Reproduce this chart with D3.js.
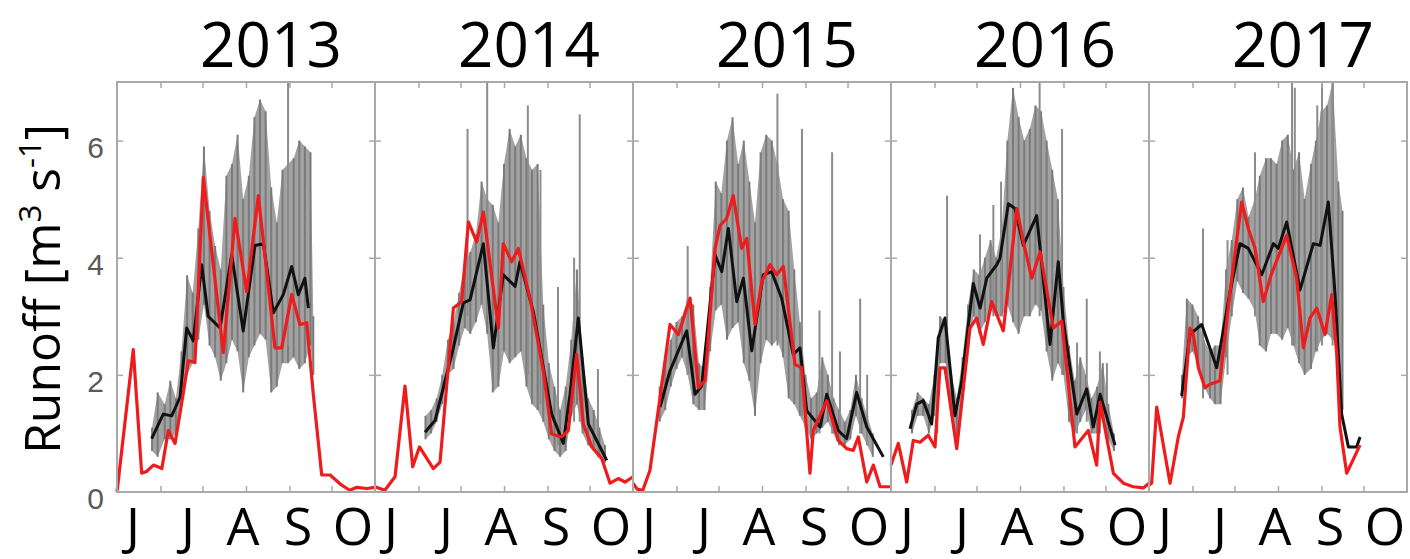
<!DOCTYPE html>
<html>
<head>
<meta charset="utf-8">
<script src="https://cdn.jsdelivr.net/npm/d3@7"></script>
<style>
  body { margin: 0; background: #fff; }
</style>
</head>
<body>
<div id="chart"></div>
<script>
// runoff per melt season, one panel per year. day = days since 1 May
const years = [2013, 2014, 2015, 2016, 2017];
const monthLabels = ["J", "J", "A", "S", "O"];
const yTicks = [0, 2, 4, 6];

// [day, value]
const red2013 = [[0,0],[11.6,2.43],[17.6,0.32],[21,0.35],[26,0.46],[32,0.4],[36.6,1.05],[41.4,0.83],[46,1.5],[50.9,2.24],[55.6,2.21],[61.6,5.37],[75.8,2.38],[84.2,4.67],[92.5,3.42],[100.8,5.06],[112.7,2.46],[117.5,2.46],[124.6,3.37],[130.5,2.86],[135.3,2.89],[140,1.67],[146,0.29],[152,0.29],[160,0.12],[166,0.03],[171,0.08],[178,0.06],[184,0.08]];
const black2013 = [[24.7,0.91],[33,1.33],[39,1.3],[45,1.62],[49.7,2.8],[54.4,2.58],[60.4,3.88],[65,3.0],[73.5,2.8],[81.8,4.05],[90,2.75],[98.4,4.21],[104.4,4.24],[111.5,3.06],[118.6,3.37],[124.6,3.85],[129.3,3.37],[134,3.65],[136.5,3.14]];
// [day, low, high]
const gray2013 = [[25,0.7,1.1],[29,0.6,1.7],[34,0.9,1.5],[38,0.9,1.9],[42,1.0,1.6],[46,1.6,2.4],[50,2.0,3.7],[54,2.2,3.4],[58,2.6,4.5],[62,3.2,5.9],[66,2.5,4.8],[70,2.3,4.2],[74,1.9,3.8],[78,2.2,5.4],[82,2.6,5.6],[86,2.4,6.1],[90,1.7,5.0],[94,2.3,5.4],[98,2.5,6.4],[102,2.7,6.7],[106,2.6,6.5],[110,1.7,5.2],[114,1.8,4.6],[118,2.2,5.5],[122,2.2,5.6],[126,2.3,5.7],[130,2.1,6.0],[134,2.2,5.9],[138,2.5,5.8],[140,2.0,3.0]];
const spikes2013 = [[122,2.5,7.0]];

const red2014 = [[0,0.09],[7,0.03],[14.3,0.26],[21.4,1.81],[26.9,0.43],[31.7,0.77],[41.6,0.4],[46.4,0.51],[55.9,3.14],[61.8,3.25],[66.6,4.61],[72.5,4.27],[77.3,4.78],[88,2.8],[91.5,4.24],[97.5,3.93],[102.2,4.16],[110.5,3.31],[120,2.07],[126,0.99],[133,0.94],[137.9,1.05],[143.8,2.35],[148.6,1.16],[154.6,0.77],[161.7,0.57],[167.6,0.15],[173.5,0.23],[178.3,0.17],[184,0.26]];
const black2014 = [[35.7,1.02],[42.8,1.22],[55.9,2.46],[63,3.23],[67.8,3.28],[77.3,4.24],[84.4,2.46],[91.5,3.71],[99.9,3.51],[103.4,3.93],[112.9,3.08],[126,1.33],[134.3,0.83],[139.1,1.67],[145,2.97],[152.2,1.16],[158.1,0.88],[165.3,0.54]];
const gray2014 = [[36,0.9,1.3],[40,1.0,1.4],[44,1.2,1.6],[48,1.5,2.0],[52,2.0,2.6],[56,2.1,2.9],[60,2.5,3.4],[64,2.8,3.9],[68,2.7,4.1],[72,2.9,4.4],[76,3.2,5.3],[80,2.7,5.0],[84,1.7,4.9],[88,1.8,4.6],[92,2.4,5.6],[96,2.2,6.2],[100,2.3,5.9],[104,2.4,6.1],[108,1.8,5.7],[112,1.5,5.5],[116,1.4,5.6],[120,1.2,3.2],[124,0.9,2.2],[128,0.7,1.8],[132,0.6,1.4],[136,0.7,1.8],[140,1.3,2.6],[144,1.5,3.8],[148,1.0,2.3],[152,0.8,1.6],[156,0.7,1.4],[160,0.6,1.1],[164,0.5,0.8]];
const spikes2014 = [[66,3.0,6.2],[80,3.0,7.0],[109,2.0,6.6],[118,1.5,5.5],[130.5,0.8,3.5],[142,1.2,4.0],[146,1.2,6.45],[159,0.6,2.1]];

const red2015 = [[0,0.15],[3,0.05],[7,0.03],[12.1,0.37],[19.3,1.62],[26.4,2.86],[32.3,2.69],[40.7,3.31],[46.6,1.78],[51.4,1.9],[58.5,4.16],[62.1,4.55],[66.8,4.67],[71.5,5.06],[77.5,4.16],[81.1,4.33],[87,2.86],[91.8,3.59],[97.7,3.88],[102.5,3.71],[107.2,3.85],[115.5,2.18],[120.3,2.12],[126.2,0.32],[128.6,1.05],[138.2,1.56],[146.4,0.88],[152.4,0.74],[157.1,0.71],[160.7,0.94],[166.7,0.17],[171.4,0.46],[176.2,0.09],[184,0.09]];
const black2015 = [[19.3,1.45],[26.4,2.07],[38.3,2.75],[44.2,1.67],[49,1.81],[58.5,4.05],[63.3,3.76],[68,4.5],[74,3.25],[78.7,3.65],[84.7,2.41],[92.9,3.71],[98.9,3.76],[106,3.31],[114.3,2.35],[119.1,2.46],[123.9,1.39],[133.4,1.11],[138.2,1.67],[146.4,1.05],[152.4,0.91],[159.5,1.7],[166.7,1.11],[178.5,0.6]];
const gray2015 = [[19,1.2,1.8],[23,1.4,2.3],[27,1.8,2.6],[31,2.1,2.9],[35,2.3,3.0],[39,2.0,3.3],[43,1.5,3.2],[47,1.4,2.2],[51,1.4,2.1],[55,2.4,3.5],[59,3.1,5.3],[63,3.2,5.1],[67,2.6,6.0],[71,2.8,6.4],[75,2.9,5.6],[79,2.2,6.0],[83,1.9,5.3],[87,1.3,4.6],[91,2.2,5.8],[95,2.6,6.1],[99,2.5,6.0],[103,2.6,5.6],[107,2.3,5.0],[111,1.6,4.8],[115,1.5,3.8],[119,1.3,2.9],[123,1.1,2.0],[127,0.9,1.6],[131,1.0,1.7],[135,1.1,2.3],[139,1.2,2.0],[143,1.0,1.6],[147,0.8,1.4],[151,0.8,1.2],[155,0.9,1.4],[159,1.3,2.0],[163,1.0,1.6],[167,0.8,1.3],[171,0.6,1.0]];
const spikes2015 = [[39,2.0,4.2],[103,2.5,6.8],[120.5,1.3,6.2],[133,1.0,3.1],[142,1.0,5.8],[147.6,0.8,2.4],[162,1.0,3.3],[167,0.8,2.0]];

const red2016 = [[0,0.46],[5.2,0.83],[11.2,0.17],[15.9,0.88],[20.7,0.85],[26.6,0.97],[31.4,0.77],[34.9,2.12],[38.5,2.12],[46.9,0.74],[56.3,2.8],[61.1,2.97],[65.8,2.52],[71.8,3.25],[80.1,2.75],[89.7,4.84],[94.4,4.27],[100.4,3.65],[106.3,4.1],[115.8,2.8],[121.8,2.92],[131.2,0.77],[140.7,1.05],[146.7,0.46],[149.1,1.53],[158.6,0.32],[165.7,0.15],[172.8,0.09],[180,0.07],[184,0.15]];
const black2016 = [[13.6,1.08],[18.3,1.5],[23,1.56],[29,1.16],[33.7,2.63],[38.5,2.97],[45.6,1.3],[50.4,1.9],[58.7,3.56],[63.5,3.14],[68.3,3.65],[75.4,3.88],[77.7,3.99],[83.7,4.92],[88.4,4.84],[94.4,4.21],[103.9,4.72],[113.4,2.52],[119.3,3.93],[122.9,2.92],[132.5,1.33],[139.6,1.76],[144.3,1.11],[149.1,1.67],[159.8,0.8]];
const gray2016 = [[15,1.0,1.4],[19,1.3,1.7],[23,1.3,1.6],[27,1.0,1.5],[31,1.3,2.0],[35,2.2,3.0],[39,2.2,2.9],[43,1.3,2.0],[47,0.9,1.6],[51,1.6,2.3],[55,2.5,3.2],[59,3.0,3.8],[63,2.7,3.7],[67,2.9,4.0],[71,3.1,4.3],[75,3.0,4.0],[79,3.0,4.5],[83,3.2,6.0],[87,2.9,6.9],[91,2.7,6.4],[95,3.0,6.0],[99,3.0,6.2],[103,3.2,6.6],[107,3.1,6.5],[111,2.4,6.0],[115,1.9,5.5],[119,2.2,5.0],[123,2.0,3.5],[127,1.2,2.5],[131,1.0,1.9],[135,1.2,2.3],[139,1.4,2.0],[143,1.0,1.6],[147,1.0,1.8],[151,1.3,2.2],[155,0.9,1.5],[159,0.7,1.0]];
const spikes2016 = [[33,1.0,2.4],[40,2.0,5.06],[63.5,2.8,4.4],[73,3.0,4.9],[78.5,3.0,5.3],[106,3.0,7.0],[122,2.0,6.2],[132.7,1.0,2.55],[139.6,1.2,3.3],[149,1.0,2.4],[154,0.9,2.2]];

const red2017 = [[0,0.12],[1.9,0.15],[5.5,1.45],[15,0.15],[20.9,0.94],[24.5,1.28],[29.2,2.8],[31.6,2.69],[35.2,2.12],[39.9,1.78],[43.5,1.84],[50.6,1.9],[57.8,3.42],[66.1,4.95],[70.8,4.5],[75.6,4.16],[81.5,3.25],[87,3.7],[98.2,4.38],[105.3,3.65],[110.1,2.46],[114.8,2.97],[119.6,3.14],[125.5,2.69],[130.3,3.37],[133.9,2.35],[136.2,1.11],[141,0.32],[150.5,0.8]];
const black2017 = [[23.3,1.64],[29.2,2.69],[37.6,2.86],[48.3,2.12],[57.8,3.42],[64.9,4.24],[70.8,4.16],[80.4,3.71],[88.7,4.24],[92.2,4.16],[98.2,4.61],[107.7,3.45],[117.2,4.24],[122,4.21],[127.9,4.95],[132.7,3.37],[137.4,1.33],[142.2,0.77],[148.1,0.77],[150.5,0.94]];
const gray2017 = [[23.5,1.6,2.0],[27,2.3,3.3],[31,2.4,3.2],[35,2.2,3.0],[39,1.8,2.6],[43.5,1.6,2.4],[47,1.5,2.5],[51,1.5,2.5],[55,2.3,3.8],[59,3.0,4.3],[63,3.6,5.0],[67,3.4,5.2],[71,3.3,4.7],[75.5,3.1,5.0],[79,2.5,5.4],[83.5,2.4,5.7],[87,2.7,5.7],[91,2.7,5.6],[95,2.6,6.0],[99,2.8,6.1],[103,2.5,5.5],[107,2.2,5.8],[111,2.0,5.0],[115.5,2.1,5.6],[119,2.4,6.0],[123,2.6,6.5],[127,2.7,6.6],[131,2.6,7.0],[135,2.6,5.3],[138,1.4,4.8]];
const spikes2017 = [[38.5,1.6,4.5],[56,2.0,4.3],[75.6,3.0,5.8],[102,2.5,7.0],[104,2.5,6.9],[120,2.4,6.6],[123.4,2.5,7.0],[131,2.5,7.0]];

const panels = [
  {year: 2013, red: red2013, black: black2013, gray: gray2013, spikes: spikes2013},
  {year: 2014, red: red2014, black: black2014, gray: gray2014, spikes: spikes2014},
  {year: 2015, red: red2015, black: black2015, gray: gray2015, spikes: spikes2015},
  {year: 2016, red: red2016, black: black2016, gray: gray2016, spikes: spikes2016},
  {year: 2017, red: red2017, black: black2017, gray: gray2017, spikes: spikes2017}
];

const W = 1410, H = 559;
const plotLeft = 117, plotTop = 82, panelW = 258, plotH = 410;
const frameColor = "#a9a9a9";

const svg = d3.select("#chart").append("svg")
    .attr("width", W)
    .attr("height", H)
    .style("background", "#fff");

const y = d3.scaleLinear().domain([0, 7]).range([plotH, 0]);

// month letters sit at even spacing inside each panel
const lx = d3.scalePoint().domain(d3.range(monthLabels.length)).range([16, 236]);

panels.forEach((p, i) => {
  const g = svg.append("g").attr("transform", "translate(" + (plotLeft + i * panelW) + "," + plotTop + ")");
  const start = new Date(p.year, 4, 1);
  const x = d3.scaleTime().domain([start, new Date(p.year, 10, 1)]).range([0, panelW]);
  const dx = d => x(new Date(start.getTime() + d * 864e5));

  // hourly range as grey band
  g.append("path")
      .datum(p.gray)
      .attr("fill", "#a2a2a2")
      .attr("d", d3.area().x(d => dx(d[0])).y0(d => y(d[1])).y1(d => y(d[2])));

  g.selectAll(".comb")
    .data(p.gray)
    .join("line")
      .attr("class", "comb")
      .attr("x1", d => dx(d[0])).attr("x2", d => dx(d[0]))
      .attr("y1", d => y(d[1])).attr("y2", d => y(d[2]))
      .attr("stroke", "#7a7a7a")
      .attr("stroke-width", 2);

  g.selectAll(".spike")
    .data(p.spikes)
    .join("line")
      .attr("class", "spike")
      .attr("x1", d => dx(d[0])).attr("x2", d => dx(d[0]))
      .attr("y1", d => y(d[1])).attr("y2", d => y(d[2]))
      .attr("stroke", "#8c8c8c")
      .attr("stroke-width", 2);

  const line = d3.line().x(d => dx(d[0])).y(d => y(d[1]));

  g.append("path")
      .datum(p.black)
      .attr("fill", "none")
      .attr("stroke", "#111")
      .attr("stroke-width", 3)
      .attr("stroke-linejoin", "round")
      .attr("d", line);

  g.append("path")
      .datum(p.red)
      .attr("fill", "none")
      .attr("stroke", "#ee1c1c")
      .attr("stroke-width", 3.2)
      .attr("stroke-linejoin", "round")
      .attr("d", line);

  // matlab style box with inward ticks
  const months = d3.timeMonth.range(d3.timeMonth.offset(start, 1), new Date(p.year, 10, 1));
  const axes = [
    g.append("g").attr("transform", "translate(0," + plotH + ")").call(d3.axisBottom(x).tickValues(months).tickSize(-6).tickFormat("")),
    g.append("g").call(d3.axisTop(x).tickValues(months).tickSize(-6).tickFormat("")),
    g.append("g").call(d3.axisLeft(y).tickValues(yTicks.slice(1)).tickSize(-6).tickFormat("")),
    g.append("g").attr("transform", "translate(" + panelW + ",0)").call(d3.axisRight(y).tickValues(yTicks.slice(1)).tickSize(-6).tickFormat(""))
  ];
  axes.forEach(a => {
    a.select(".domain").remove();
    a.selectAll("line").attr("stroke", frameColor).attr("stroke-width", 1.5);
  });

  g.append("rect")
      .attr("width", panelW)
      .attr("height", plotH)
      .attr("fill", "none")
      .attr("stroke", frameColor)
      .attr("stroke-width", 2);

  g.selectAll(".mlab")
    .data(monthLabels)
    .join("text")
      .attr("class", "mlab")
      .attr("x", (d, k) => lx(k))
      .attr("y", 463)
      .attr("text-anchor", "middle")
      .style("font-family", "'Open Sans', sans-serif")
      .style("font-size", "52px")
      .attr("fill", "#000")
      .text(d => d);

  svg.append("text")
      .attr("x", plotLeft + i * panelW + panelW / 2 + 25)
      .attr("y", 67)
      .attr("text-anchor", "middle")
      .style("font-family", "'Open Sans', sans-serif")
      .style("font-size", "62px")
      .attr("fill", "#000")
      .text(p.year);
});

// y tick labels only on first panel
const yAxis = svg.append("g")
    .attr("transform", "translate(" + plotLeft + "," + plotTop + ")")
    .call(d3.axisLeft(y).tickValues(yTicks).tickSize(0).tickPadding(13).tickFormat(d3.format("d")));
yAxis.select(".domain").remove();
yAxis.selectAll("text")
    .attr("dy", "0.55em")
    .style("font-family", "'Liberation Sans', Arial, sans-serif")
    .style("font-size", "30px")
    .attr("fill", "#5a5a5a");

const ylab = svg.append("text")
    .attr("transform", "translate(60," + (plotTop + plotH / 2 + 2) + ") rotate(-90)")
    .attr("text-anchor", "middle")
    .style("font-family", "'Open Sans', sans-serif")
    .style("font-size", "50px")
    .attr("fill", "#000");
ylab.append("tspan").text("Runoff [m");
ylab.append("tspan").attr("dy", -19).style("font-size", "31px").text("3");
ylab.append("tspan").attr("dy", 19).text(" s");
ylab.append("tspan").attr("dy", -19).style("font-size", "31px").text("-1");
ylab.append("tspan").attr("dy", 19).text("]");
</script>
</body>
</html>
